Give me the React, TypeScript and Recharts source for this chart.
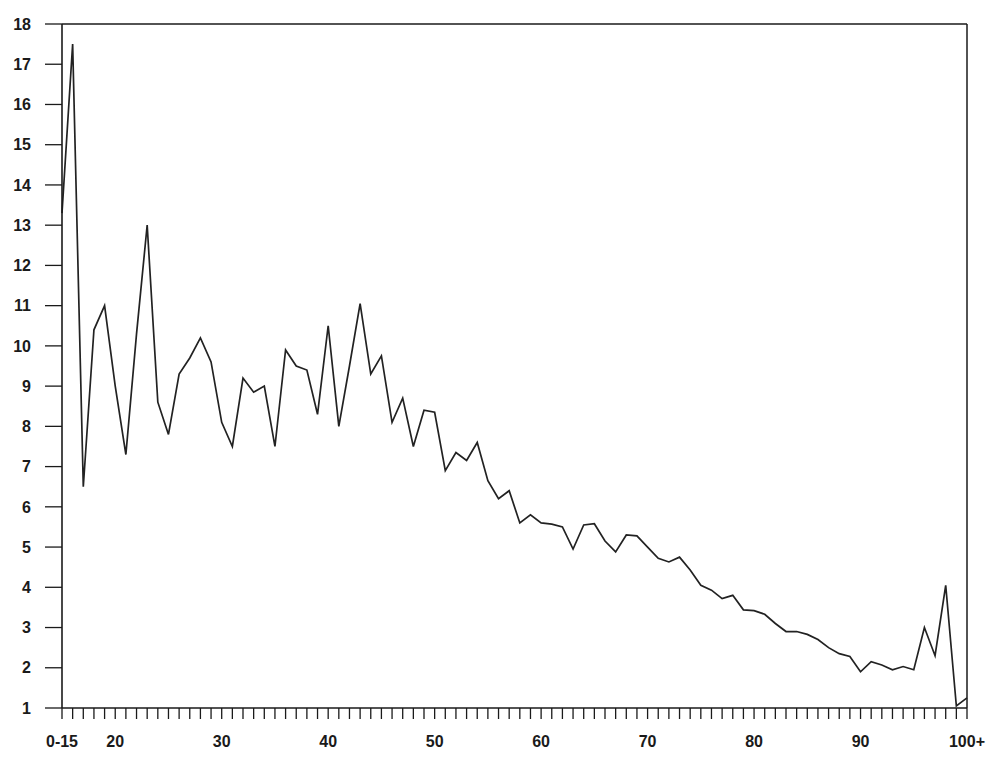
import React from 'react';
import { LineChart, Line, XAxis, YAxis, ReferenceLine } from 'recharts';

// age categories: "0-15", 16 ... 99, "100+"
const ages: string[] = ['0-15'];
for (let a = 16; a <= 99; a++) ages.push(String(a));
ages.push('100+');

// values, one per age category
const percent = [
  13.3, 17.5, 6.5, 10.4, 11.0, 9.0, 7.3, 10.3, 13.0, 8.6,
  7.8, 9.3, 9.7, 10.2, 9.6, 8.1, 7.5, 9.2, 8.85, 9.0,
  7.5, 9.9, 9.5, 9.4, 8.3, 10.5, 8.0, 9.5, 11.05, 9.3,
  9.75, 8.1, 8.7, 7.5, 8.4, 8.35, 6.9, 7.35, 7.15, 7.6,
  6.65, 6.2, 6.4, 5.6, 5.8, 5.6, 5.57, 5.5, 4.95, 5.55,
  5.58, 5.15, 4.88, 5.3, 5.28, 5.0, 4.72, 4.63, 4.75, 4.43,
  4.05, 3.93, 3.72, 3.8, 3.44, 3.42, 3.33, 3.1, 2.9, 2.9,
  2.83, 2.7, 2.5, 2.35, 2.28, 1.9, 2.15, 2.07, 1.95, 2.03,
  1.95, 3.0, 2.3, 4.05, 1.05, 1.25,
];

const yTicks = [1, 2, 3, 4, 5, 6, 7, 8, 9, 10, 11, 12, 13, 14, 15, 16, 17, 18];
const xLabels = ['0-15', '20', '30', '40', '50', '60', '70', '80', '90', '100+'];

const data = ages.map((age, i) => ({ age, value: percent[i] }));

const ink = '#1a1a1a';
const labelFont = { fill: ink, fontSize: 16, fontWeight: 700, fontFamily: 'Liberation Sans, Arial, sans-serif' };

export default function App() {
  return (
    <div style={{ position: 'absolute', left: 0, top: 0, width: 993, height: 762, background: '#fff' }}>
      <LineChart width={993} height={762} data={data} margin={{ top: 24, right: 26, bottom: 0, left: 0 }}>
        <XAxis
          dataKey="age"
          interval={0}
          height={54}
          tickSize={11}
          tickMargin={17}
          axisLine={{ stroke: ink, strokeWidth: 1.6 }}
          tickLine={{ stroke: ink, strokeWidth: 1.3 }}
          tick={labelFont}
          tickFormatter={(v: string) => (xLabels.includes(v) ? v : '')}
        />
        <YAxis
          type="number"
          domain={[1, 18]}
          ticks={yTicks}
          interval={0}
          width={62}
          tickSize={17}
          tickMargin={14}
          axisLine={{ stroke: ink, strokeWidth: 1.6 }}
          tickLine={{ stroke: ink, strokeWidth: 1.3 }}
          tick={labelFont}
          allowDataOverflow
        />
        <ReferenceLine y={18} stroke={ink} strokeWidth={1.6} />
        <ReferenceLine x="100+" stroke={ink} strokeWidth={1.5} />
        <Line
          type="linear"
          dataKey="value"
          stroke="#222"
          strokeWidth={1.7}
          dot={false}
          isAnimationActive={false}
        />
      </LineChart>
    </div>
  );
}
